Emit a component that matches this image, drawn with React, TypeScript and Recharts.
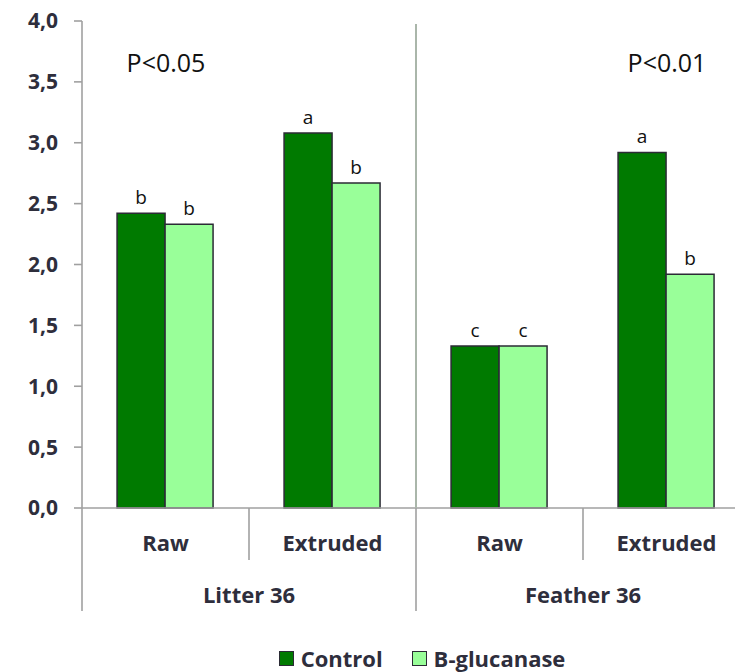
import React from 'react';
import { BarChart, Bar, XAxis, YAxis, LabelList, Legend } from 'recharts';

// Category structure
const groups = ['Litter 36', 'Litter 36', 'Feather 36', 'Feather 36'];
const treatments = ['Raw', 'Extruded', 'Raw', 'Extruded'];

// Series values
const controlValues = [2.42, 3.08, 1.33, 2.92];
const glucanaseValues = [2.33, 2.67, 1.33, 1.92];

// Significance letters above each bar
const controlLetters = ['b', 'a', 'c', 'a'];
const glucanaseLetters = ['b', 'b', 'c', 'b'];

// P-value notes and the level they sit at
const pNotes = ['P<0.05', '', '', 'P<0.01'];
const pNoteLevels = [3.55, null, null, 3.55];

const yTicks = [0, 0.5, 1, 1.5, 2, 2.5, 3, 3.5, 4];

const data = treatments.map((t, i) => ({
  treatment: t,
  group: groups[i],
  control: controlValues[i],
  glucanase: glucanaseValues[i],
  controlLetter: controlLetters[i],
  glucanaseLetter: glucanaseLetters[i],
  note: pNotes[i],
  noteLevel: pNoteLevels[i],
}));

const DARK_GREEN = '#007A00';
const LIGHT_GREEN = '#99FF99';
const BAR_STROKE = '#2b2b35';
const AXIS = '#a0a0a0';
const TEXT = '#2e2e3c';
const FONT = '"Open Sans", sans-serif';

const CHART_W = 758;
const CHART_H = 672;
const PLOT_HEIGHT = 487;

function CategoryTick(props: any) {
  const { x, y, payload, index } = props;
  const half = payload && payload.offset ? payload.offset : 83.5;
  const left = x - half;
  const i = typeof index === 'number' ? index : 0;
  const groupStart = i % 2 === 0;
  return (
    <g>
      <line x1={left} x2={left} y1={y} y2={y + (groupStart ? 103 : 52)} stroke={AXIS} strokeWidth={1.6} />
      {i === 2 && (
        <line x1={left} x2={left} y1={y - PLOT_HEIGHT + 3} y2={y} stroke="#aab6aa" strokeWidth={2} />
      )}
      <text x={x} y={y + 43} textAnchor="middle" fill={TEXT} fontFamily={FONT} fontWeight={700} fontSize={22}>
        {payload.value}
      </text>
      {groupStart && (
        <text x={x + half} y={y + 95} textAnchor="middle" fill={TEXT} fontFamily={FONT} fontWeight={700} fontSize={22}>
          {groups[i]}
        </text>
      )}
    </g>
  );
}

function LegendContent() {
  const item = (color: string, label: string, gap: number) => (
    <div style={{ display: 'flex', alignItems: 'center', marginLeft: gap }}>
      <div
        style={{
          width: 13,
          height: 13,
          background: color,
          border: `1.5px solid ${BAR_STROKE}`,
          marginRight: 7,
        }}
      />
      <span style={{ fontFamily: FONT, fontWeight: 700, fontSize: 22, color: TEXT, lineHeight: '24px' }}>{label}</span>
    </div>
  );
  return (
    <div
      style={{
        height: 54,
        boxSizing: 'border-box',
        display: 'flex',
        alignItems: 'flex-end',
        justifyContent: 'center',
        paddingLeft: 94,
        paddingBottom: 2,
      }}
    >
      {item(DARK_GREEN, 'Control', 0)}
      {item(LIGHT_GREEN, 'B-glucanase', 29)}
    </div>
  );
}

const letterStyle = { fontFamily: FONT, fontSize: 19, fill: '#111' };

export default function App() {
  return (
    <div
      style={{
        marginTop: -8,
        marginLeft: -8,
        marginRight: -8,
        marginBottom: 0,
        width: 743,
        height: CHART_H,
        overflow: 'hidden',
      }}
    >
      <BarChart
        width={CHART_W}
        height={CHART_H}
        data={data}
        margin={{ top: 21, right: 8, left: 0, bottom: 0 }}
        barCategoryGap="21%"
        barGap={0}
      >
        <XAxis
          dataKey="treatment"
          interval={0}
          height={110}
          tickSize={0}
          tickMargin={0}
          tickLine={false}
          axisLine={{ stroke: AXIS, strokeWidth: 1.6 }}
          tick={<CategoryTick />}
        />
        <XAxis xAxisId="note" dataKey="treatment" hide />
        <YAxis
          width={82}
          domain={[0, 4]}
          ticks={yTicks}
          interval={0}
          tickSize={8}
          tickMargin={16}
          axisLine={{ stroke: AXIS, strokeWidth: 1.6 }}
          tickLine={{ stroke: AXIS, strokeWidth: 1.6 }}
          tickFormatter={(v: number) => v.toFixed(1).replace('.', ',')}
          tick={{ fill: TEXT, fontFamily: FONT, fontWeight: 700, fontSize: 21 }}
        />
        <Legend verticalAlign="bottom" align="center" content={<LegendContent />} />
        <Bar dataKey="control" name="Control" fill={DARK_GREEN} stroke={BAR_STROKE} strokeWidth={1.5} isAnimationActive={false}>
          <LabelList dataKey="controlLetter" position="top" offset={9} style={letterStyle} />
        </Bar>
        <Bar dataKey="glucanase" name="B-glucanase" fill={LIGHT_GREEN} stroke={BAR_STROKE} strokeWidth={1.5} isAnimationActive={false}>
          <LabelList dataKey="glucanaseLetter" position="top" offset={9} style={letterStyle} />
        </Bar>
        <Bar
          xAxisId="note"
          dataKey="noteLevel"
          legendType="none"
          fill="none"
          stroke="none"
          barSize={40}
          isAnimationActive={false}
        >
          <LabelList dataKey="note" position="top" offset={4} style={{ fontFamily: FONT, fontSize: 25, fill: '#111' }} />
        </Bar>
      </BarChart>
    </div>
  );
}
